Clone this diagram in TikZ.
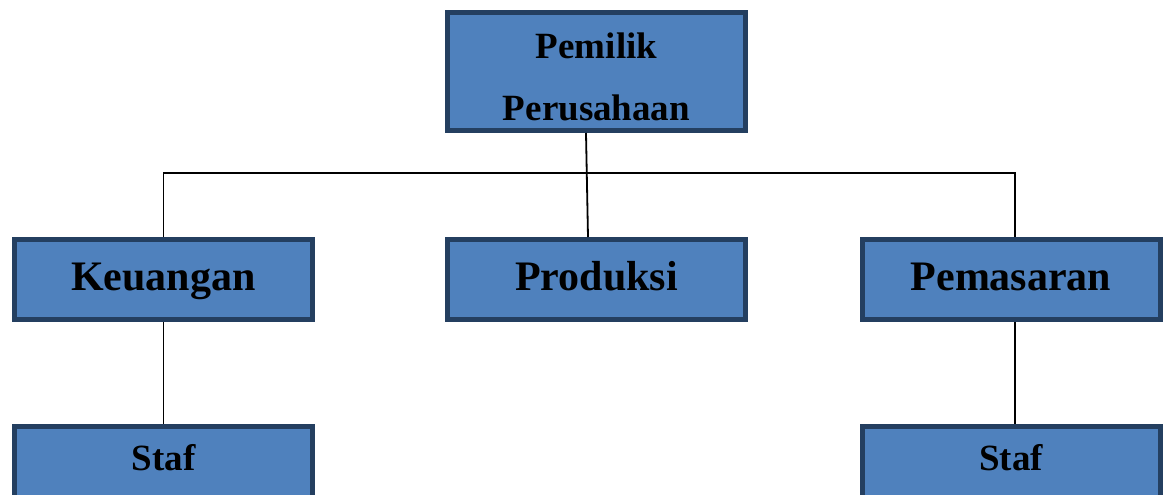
\documentclass[tikz,border=0pt]{standalone}
\usepackage{fontspec}
\setmainfont{Liberation Serif}
\usetikzlibrary{positioning}
\definecolor{boxfill}{HTML}{4F81BD}
\definecolor{boxline}{HTML}{243F60}

\tikzset{every picture/.style={line width=1.8pt}}
\tikzset{
  orgbox/.style={draw=boxline, fill=boxfill, line width=5pt, inner sep=0pt,
    minimum width=298pt, text=black},
  headbox/.style={orgbox, minimum height=118pt, align=center, text height=99pt,
    font=\bfseries\fontsize{37}{62}\selectfont},
  unitbox/.style={orgbox, minimum height=80pt, text height=30pt, text depth=9pt,
    font=\bfseries\fontsize{42}{50}\selectfont},
  stafbox/.style={orgbox, minimum height=80pt, text height=26pt, text depth=19pt,
    font=\bfseries\fontsize{37}{44}\selectfont},
}

\begin{document}
\begin{tikzpicture}[x=1pt, y=-1pt]
\useasboundingbox (0,0) rectangle (1163,495);
\clip (0,0) rectangle (1163,495);

\node[headbox] (pemilik) at (596.5,71.5) {Pemilik\\Perusahaan};

\node[unitbox] (keuangan) at (163.5,279.5) {Keuangan};
    \node[unitbox] (produksi) at (596.5,279.5) {Produksi};
    \node[unitbox] (pemasaran) at (1011,279.5) {Pemasaran};

\node[stafbox] (stafkeu) at (163.5,466.5) {Staf};
    \node[stafbox] (stafpem) at (1011,466.5) {Staf};

\coordinate (bar) at (0,173);

\draw ([xshift=-10.5pt]pemilik.south) -- ([xshift=-8.5pt]produksi.north);
    \draw (keuangan.north) |- ([xshift=4pt]pemasaran.north |- bar) -- ([xshift=4pt]pemasaran.north);

\draw (keuangan.south) -- (stafkeu.north);
    \draw ([xshift=4pt]pemasaran.south) -- ([xshift=4pt]stafpem.north);

\end{tikzpicture}
\end{document}
